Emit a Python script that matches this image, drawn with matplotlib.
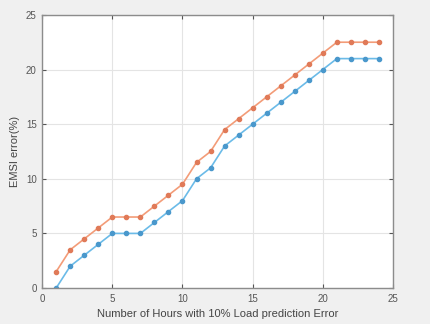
import matplotlib.pyplot as plt

hours = list(range(1, 25))
emsi_upper = [1.5, 3.5, 4.5, 5.5, 6.5, 6.5, 6.5, 7.5, 8.5, 9.5, 11.5, 12.5,
              14.5, 15.5, 16.5, 17.5, 18.5, 19.5, 20.5, 21.5, 22.5, 22.5, 22.5, 22.5]
emsi_lower = [0, 2, 3, 4, 5, 5, 5, 6, 7, 8, 10, 11,
              13, 14, 15, 16, 17, 18, 19, 20, 21, 21, 21, 21]
xticks = [0, 5, 10, 15, 20, 25]
yticks = [0, 5, 10, 15, 20, 25]

plt.rcParams['font.family'] = ['Liberation Sans', 'DejaVu Sans']

fig = plt.figure(figsize=(4.3, 3.24), dpi=100, facecolor='#f0f0f0')
ax = fig.add_axes([0.098, 0.111, 0.816, 0.843])

ax.plot(hours, emsi_upper, '-o', color='#f39c78', lw=1.2, ms=3,
        mfc='#e07a58', mec='#e07a58')
ax.plot(hours, emsi_lower, '-o', color='#6bbbe8', lw=1.2, ms=3,
        mfc='#4a98cc', mec='#4a98cc')

ax.set_xlim(0, 25)
ax.set_ylim(0, 25)
ax.set_xticks(xticks)
ax.set_yticks(yticks)
ax.grid(True, color='#e4e4e4', lw=0.8)
ax.set_axisbelow(True)
ax.tick_params(direction='in', length=3, labelsize=7, colors='#555555',
               top=True, right=True, pad=4)
for s in ax.spines.values():
    s.set_color('#8c8c8c')
    s.set_linewidth(1.0)

ax.set_xlabel('Number of Hours with 10% Load prediction Error', fontsize=8,
              color='#444444', labelpad=4)
ax.set_ylabel('EMSI error(%)', fontsize=8, color='#444444', labelpad=4)

fig.savefig('out.png', dpi=100, facecolor=fig.get_facecolor())
